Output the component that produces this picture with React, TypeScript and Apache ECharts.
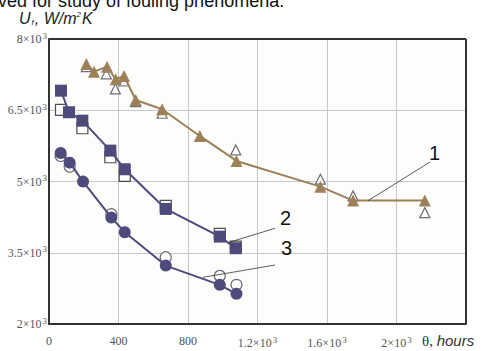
import React, { useEffect, useRef } from "react";
import * as echarts from "echarts";

// Series 1 (triangles)
const s1Hours = [215, 259, 334, 384, 432, 499, 651, 868, 1079, 1562, 1750, 2163];
const s1Filled = [7474, 7312, 7417, 7152, 7222, 6717, 6521, 5959, 5433, 4892, 4598, 4598];
const s1OpenHours = [215, 330, 382, 432, 499, 651, 1075, 1562, 1750, 2163];
const s1Open = [7417, 7264, 6948, 7116, 6681, 6437, 5664, 5048, 4697, 4345];

// Series 2 (squares)
const s2Hours = [69, 115, 192, 353, 436, 672, 983, 1075];
const s2Filled = [6912, 6458, 6281, 5650, 5258, 4423, 3840, 3596];
const s2OpenHours = [69, 192, 353, 436, 672, 983, 1075];
const s2Open = [6506, 6121, 5511, 5117, 4486, 3897, 3630];

// Series 3 (circles)
const s3Hours = [67, 119, 196, 359, 436, 672, 983, 1079];
const s3Filled = [5601, 5397, 4998, 4240, 3933, 3230, 2824, 2635];
const s3OpenHours = [67, 119, 359, 672, 983, 1079];
const s3Open = [5538, 5313, 4312, 3407, 3013, 2824];

const xTicks: Record<number, string> = { 0: "0", 400: "400", 800: "800", 1200: "1.2×10", 1600: "1.6×10", 2000: "2×10", 2400: "" };
const yTicks: Record<number, string> = { 2000: "2×10", 3500: "3.5×10", 5000: "5×10", 6500: "6.5×10", 8000: "8×10" };
const EXPONENT = "3";

const BROWN = "#9c8058";
const PURPLE = "#4f4a7c";
const OPEN_BORDER = "#4a4a58";

const zip = (xs: number[], ys: number[]) => xs.map((x, i) => [x, ys[i]]);

const tickRich = {
  n: { fontFamily: "Liberation Serif", fontSize: 12, color: "#555" },
  s: { fontFamily: "Liberation Serif", fontSize: 9, color: "#555", padding: [0, 0, 7, 1] },
};
const fmt = (t: string) => (t.endsWith("×10") ? `{n|${t}}{s|${EXPONENT}}` : `{n|${t}}`);

export default function App() {
  const ref = useRef<HTMLDivElement>(null);
  useEffect(() => {
    const chart = echarts.init(ref.current!, null, { renderer: "svg" });
    const openStyle = { color: "#ffffff", borderColor: OPEN_BORDER, borderWidth: 1.2 };
    chart.setOption({
      animation: false,
      backgroundColor: "#ffffff",
      grid: { left: 49, right: 21, top: 39, bottom: 27, show: true, backgroundColor: "#fdfdfb", borderWidth: 0 },
      xAxis: {
        type: "value",
        min: 0,
        max: 2400,
        interval: 400,
        axisLine: { show: true, onZero: false, lineStyle: { color: "#333", width: 2 } },
        axisTick: { show: false },
        splitLine: { show: true, lineStyle: { color: "#c8c8c8", width: 1 } },
        axisLabel: {
          formatter: (v: number) => (xTicks[v] ? fmt(xTicks[v]) : ""),
          rich: tickRich,
          margin: 11,
        },
      },
      yAxis: {
        type: "value",
        min: 2000,
        max: 8000,
        interval: 1500,
        axisLine: { show: true, onZero: false, lineStyle: { color: "#333", width: 2 } },
        axisTick: { show: false },
        splitLine: { show: true, lineStyle: { color: "#c8c8c8", width: 1 } },
        axisLabel: {
          formatter: (v: number) => (yTicks[v] ? fmt(yTicks[v]) : ""),
          rich: tickRich,
          margin: 2,
        },
      },
      series: [
        { type: "scatter", data: zip(s1OpenHours, s1Open), symbol: "triangle", symbolSize: 10, itemStyle: openStyle, z: 2 },
        { type: "scatter", data: zip(s2OpenHours, s2Open), symbol: "rect", symbolSize: 11, itemStyle: { ...openStyle, borderColor: "#222" }, z: 2 },
        { type: "scatter", data: zip(s3OpenHours, s3Open), symbol: "circle", symbolSize: 11, itemStyle: openStyle, z: 2 },
        {
          type: "line", data: zip(s1Hours, s1Filled), symbol: "triangle", symbolSize: 12,
          lineStyle: { color: BROWN, width: 2 }, itemStyle: { color: BROWN }, z: 3,
        },
        {
          type: "line", data: zip(s2Hours, s2Filled), symbol: "rect", symbolSize: 12,
          lineStyle: { color: PURPLE, width: 2 }, itemStyle: { color: PURPLE }, z: 3,
        },
        {
          type: "line", data: zip(s3Hours, s3Filled), symbol: "circle", symbolSize: 12,
          lineStyle: { color: PURPLE, width: 2 }, itemStyle: { color: PURPLE }, z: 3,
        },
      ],
      graphic: [
        // plot frame top & right
        { type: "line", shape: { x1: 49, y1: 39, x2: 466, y2: 39 }, style: { stroke: "#333", lineWidth: 2 }, z: 10 },
        { type: "line", shape: { x1: 466, y1: 39, x2: 466, y2: 324 }, style: { stroke: "#333", lineWidth: 2 }, z: 10 },
        // title fragment (cut at the top edge, as in the reference)
        { type: "text", left: -2, top: -8, style: { text: "ved for study of fouling phenomena.", font: "18px 'Liberation Sans', Arial", fill: "#111" } },
        // y axis title
        {
          type: "text", left: 19, top: 10,
          style: {
            text: "{i|U}{s|f}{i|, W/m}{sup|2}{i|K}",
            rich: {
              i: { font: "italic 16px 'Liberation Sans', Arial", fill: "#222" },
              s: { font: "italic 8px 'Liberation Sans', Arial", fill: "#222", padding: [9, 1, 0, 1] },
              sup: { font: "italic 8px 'Liberation Sans', Arial", fill: "#222", padding: [0, 1, 7, 0] },
            },
          },
        },
        // x axis title
        {
          type: "text", left: 422, top: 333,
          style: {
            text: "{t|θ, }{i|hours}",
            rich: {
              t: { font: "15px 'Liberation Serif'", fill: "#333" },
              i: { font: "italic 15px 'Liberation Sans', Arial", fill: "#333" },
            },
          },
        },
        // leaders and numbers
        { type: "line", shape: { x1: 368, y1: 200.7, x2: 430, y2: 162 }, style: { stroke: "#333", lineWidth: 0.8 }, z: 10 },
        { type: "text", left: 429, top: 143, style: { text: "1", font: "20px 'Liberation Sans', Arial", fill: "#111" }, z: 10 },
        { type: "line", shape: { x1: 228, y1: 242.7, x2: 275, y2: 228.3 }, style: { stroke: "#333", lineWidth: 0.8 }, z: 10 },
        { type: "text", left: 280, top: 208, style: { text: "2", font: "20px 'Liberation Sans', Arial", fill: "#111" }, z: 10 },
        { type: "line", shape: { x1: 203, y1: 277.3, x2: 275, y2: 265 }, style: { stroke: "#333", lineWidth: 0.8 }, z: 10 },
        { type: "text", left: 281, top: 238, style: { text: "3", font: "20px 'Liberation Sans', Arial", fill: "#111" }, z: 10 },
      ],
    });
    return () => chart.dispose();
  }, []);
  return <div ref={ref} style={{ position: "fixed", left: 0, top: 0, width: 487, height: 351 }} />;
}
